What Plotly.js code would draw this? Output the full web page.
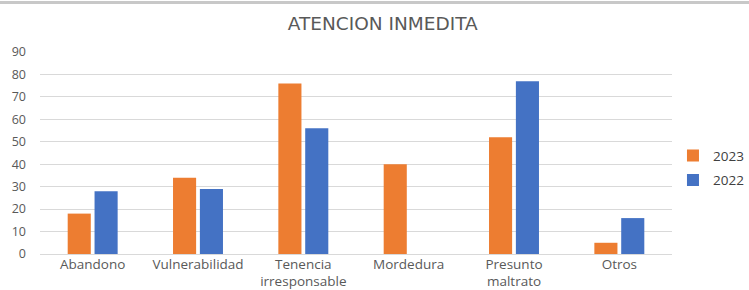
<!DOCTYPE html>
<html><head><meta charset="utf-8">
<script src="https://cdn.plot.ly/plotly-3.0.1.min.js"></script>
<style>html,body{margin:0;padding:0;background:#fff}#c{width:749px;height:290px}</style>
</head><body><div id="c"></div>
<script>
const categories = ["Abandono", "Vulnerabilidad", "Tenencia<br>irresponsable", "Mordedura", "Presunto<br>maltrato", "Otros"];
const values2023 = [18, 34, 76, 40, 52, 5];
const values2022 = [28, 29, 56, 0, 77, 16];
const yTicks = [0, 10, 20, 30, 40, 50, 60, 70, 80, 90];

const fam = "Open Sans, Liberation Sans, Arial, sans-serif";
const traces = [
  {type: "bar", name: "2023", legendgroup: "a", x: categories, y: values2023, marker: {color: "#ED7D31"}},
  {type: "bar", name: "2022", legendgroup: "b", x: categories, y: values2022, marker: {color: "#4472C4"}}
];
const layout = {
  width: 749, height: 290,
  margin: {l: 40, r: 77, t: 52, b: 36, autoexpand: false},
  paper_bgcolor: "#fff", plot_bgcolor: "#fff",
  font: {family: fam, color: "#595959", size: 12},
  title: {text: "ATENCION INMEDITA", font: {family: "DejaVu Sans, sans-serif", size: 18.5, color: "#595959"}, x: 0.511, xanchor: "center", y: 0.918, yanchor: "middle"},
  barmode: "group", bargap: 0.49, bargroupgap: 0.14,
  xaxis: {showgrid: false, showline: false, zeroline: false, ticks: "", ticklabelstandoff: 0, tickfont: {family: fam, size: 13.5, color: "#595959"}, automargin: false},
  yaxis: {range: [0, 90], tickvals: yTicks, showgrid: true, gridcolor: "#d9d9d9", gridwidth: 1, zeroline: true, zerolinecolor: "#d9d9d9", showline: false, ticks: "", ticklabelstandoff: 13, tickfont: {family: fam, size: 12.5, color: "#595959"}, automargin: false},
  legend: {xref: "container", yref: "container", x: 0.8985, xanchor: "left", y: 0.42, yanchor: "middle", font: {family: fam, size: 13.5, color: "#404040"}, traceorder: "grouped", tracegroupgap: 4, itemwidth: 30},
  shapes: [{type: "line", xref: "paper", yref: "paper", x0: -0.1, x1: 1.2, y0: 1.245, y1: 1.245, line: {color: "#c8c8c8", width: 3}}],
  showlegend: true
};
Plotly.newPlot("c", traces, layout, {displayModeBar: false, staticPlot: true});
</script></body></html>
